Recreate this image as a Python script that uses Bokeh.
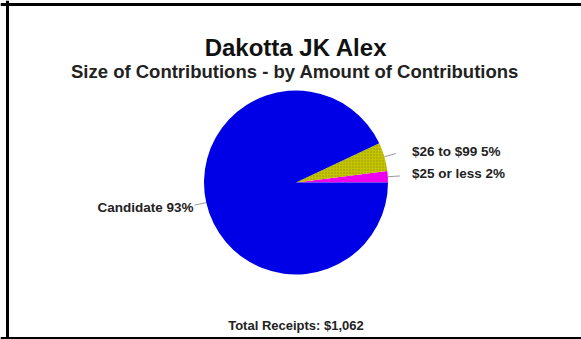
import math
from bokeh.plotting import figure
from bokeh.models import Range1d, Label, Span, ColumnDataSource
from bokeh.core.properties import value
from bokeh.embed import file_html
from bokeh.resources import INLINE

# ---- data ----
categories = ["$25 or less", "$26 to $99", "Candidate"]
percents = [2, 5, 93]
colors = ["#ee00ee", "#c4c400", "#0000e6"]
title_text = "Dakotta JK Alex"
subtitle_text = "Size of Contributions - by Amount of Contributions"
footer_text = "Total Receipts: $1,062"

# ---- layout (data coords: x = x_px, y = 339 - y_px) ----
W, H = 581, 339
cx, cy, r = 295.5, 339 - 182, 92
FONT = "Liberation Sans"

p = figure(width=W, height=H, output_backend="svg", toolbar_location=None,
           x_range=Range1d(0, W), y_range=Range1d(0, H),
           min_border=0, outline_line_color=None)
p.axis.visible = False
p.grid.visible = False
p.background_fill_color = "white"
p.border_fill_color = "white"

total = sum(percents)
starts, ends, mids = [], [], []
acc = 0.0
for v in percents:
    a0 = 2 * math.pi * acc / total
    acc += v
    a1 = 2 * math.pi * acc / total
    starts.append(a0)
    ends.append(a1)
    mids.append((a0 + a1) / 2)

src = ColumnDataSource(dict(start=starts, end=ends, color=colors))
p.wedge(x=cx, y=cy, radius=r, start_angle="start", end_angle="end",
        fill_color="color", line_color=None, source=src)
# dither-like texture on the yellow slice
p.wedge(x=cx, y=cy, radius=r, start_angle=starts[1], end_angle=ends[1],
        fill_alpha=0, line_color=None, hatch_pattern=".", hatch_color="#666600",
        hatch_scale=3, hatch_alpha=0.5)

# leader lines and labels
lx0, ly0, lx1, ly1 = [], [], [], []
tx, ty, tt, ta = [], [], [], []
for cat, v, m in zip(categories, percents, mids):
    c, s = math.cos(m), math.sin(m)
    x0, y0 = cx + r * c, cy + r * s
    x1, y1 = cx + (r + 12) * c, cy + (r + 12) * s
    lx0.append(x0); ly0.append(y0); lx1.append(x1); ly1.append(y1)
    label = f"{cat} {v}%"
    if c >= 0:
        tx.append(cx + r + 24); ta.append("left")
    else:
        tx.append(x1 - 1); ta.append("right")
    ty.append(y1 + (2 if c >= 0 else -2))
    tt.append(label)

p.segment(x0=lx0, y0=ly0, x1=lx1, y1=ly1, line_color="#999999", line_width=1)
p.text(x=tx, y=ty, text=tt, text_align=ta, text_baseline="middle",
       text_font=value(FONT), text_font_style="bold", text_font_size="13.5px",
       text_color="#222222")

p.add_layout(Label(x=cx, y=339 - 47, text=title_text, text_align="center",
                   text_baseline="middle", text_font=FONT, text_font_style="bold",
                   text_font_size="24px", text_color="#111111"))
p.add_layout(Label(x=294.5, y=339 - 71, text=subtitle_text, text_align="center",
                   text_baseline="middle", text_font=FONT, text_font_style="bold",
                   text_font_size="18.5px", text_color="#222222"))
p.add_layout(Label(x=295.5, y=339 - 325, text=footer_text, text_align="center",
                   text_baseline="middle", text_font=FONT, text_font_style="bold",
                   text_font_size="13px", text_color="#222222"))

# frame border (left, top, bottom)
p.add_layout(Span(location=7, dimension="height", line_color="black", line_width=3))
p.add_layout(Span(location=339 - 4, dimension="width", line_color="black", line_width=3))
p.add_layout(Span(location=339 - 338, dimension="width", line_color="black", line_width=3))

open("out.html", "w").write(file_html(p, INLINE))
